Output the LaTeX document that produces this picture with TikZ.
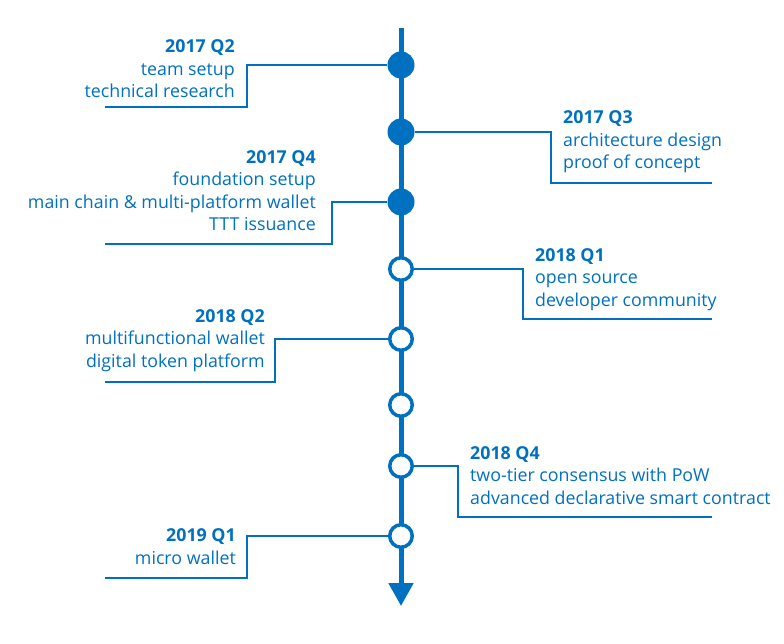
\documentclass[tikz,border=0pt]{standalone}
\usepackage{fontspec}
\setmainfont{Open Sans}
\usetikzlibrary{arrows.meta}
\definecolor{tblue}{HTML}{0070C0}
\begin{document}
\begin{tikzpicture}[x=1pt,y=-1pt,
  axis/.style={line width=5pt, draw=tblue, -{Triangle[length=23pt,width=24pt]}},
  full/.style={circle, fill=tblue, minimum size=27pt, inner sep=0pt},
  hollow/.style={circle, draw=tblue, line width=3.5pt, fill=white, minimum size=22.5pt, inner sep=0pt},
  conn/.style={draw=tblue, line width=2pt},
  lbl/.style={text=tblue, inner sep=0pt, font=\fontsize{17.8}{22.5}\selectfont},
  lblL/.style={lbl, align=right, anchor=base east},
  lblR/.style={lbl, align=left, anchor=base west}]
\useasboundingbox (0,0) rectangle (784,644);
\coordinate (top) at (401,28);
\coordinate (bot) at (401,606);
\draw[axis] (top) -- (bot);
\node[full] (c1) at (401,65) {};
\node[full] (c2) at (401,132) {};
\node[full] (c3) at (401,202) {};
\node[hollow] (c4) at (401,269) {};
\node[hollow] (c5) at (401,339) {};
\node[hollow] (c6) at (401,405) {};
\node[hollow] (c7) at (401,466) {};
\node[hollow] (c8) at (401,536) {};
% labels (anchored at the baseline of the last line)
\node[lblL] (t1) at (235,98) {\textbf{2017 Q2}\\team setup\\technical research};
\node[lblR] (t2) at (563,169) {\textbf{2017 Q3}\\architecture design\\proof of concept};
\node[lblL] (t3) at (316,231) {\textbf{2017 Q4}\\foundation setup\\main chain \& multi-platform wallet\\TTT issuance};
\node[lblR] (t4) at (535,306) {\textbf{2018 Q1}\\open source\\developer community};
\node[lblL] (t5) at (265,367) {\textbf{2018 Q2}\\multifunctional wallet\\digital token platform};
\node[lblR] (t7) at (470,504) {\textbf{2018 Q4}\\two-tier consensus with PoW\\advanced declarative smart contract};
\node[lblL] (t8) at (236,564) {\textbf{2019 Q1}\\micro wallet};
% connector ends
\coordinate (e1) at (105,107);
\coordinate (e2) at (712,183);
\coordinate (e3) at (105,244);
\coordinate (e4) at (712,319);
\coordinate (e5) at (105,382);
\coordinate (e7) at (712,517);
\coordinate (e8) at (105,578);
\draw[conn] (c1.west) -- (247,65) -- (247,107) -- (e1);
\draw[conn] (c2.east) -- (551,132) -- (551,183) -- (e2);
\draw[conn] (c3.west) -- (332,202) -- (332,244) -- (e3);
\draw[conn] (c4.east) -- (523,269) -- (523,319) -- (e4);
\draw[conn] (c5.west) -- (275,339) -- (275,382) -- (e5);
\draw[conn] (c7.east) -- (458,466) -- (458,517) -- (e7);
\draw[conn] (c8.west) -- (247,536) -- (247,578) -- (e8);
\end{tikzpicture}
\end{document}
